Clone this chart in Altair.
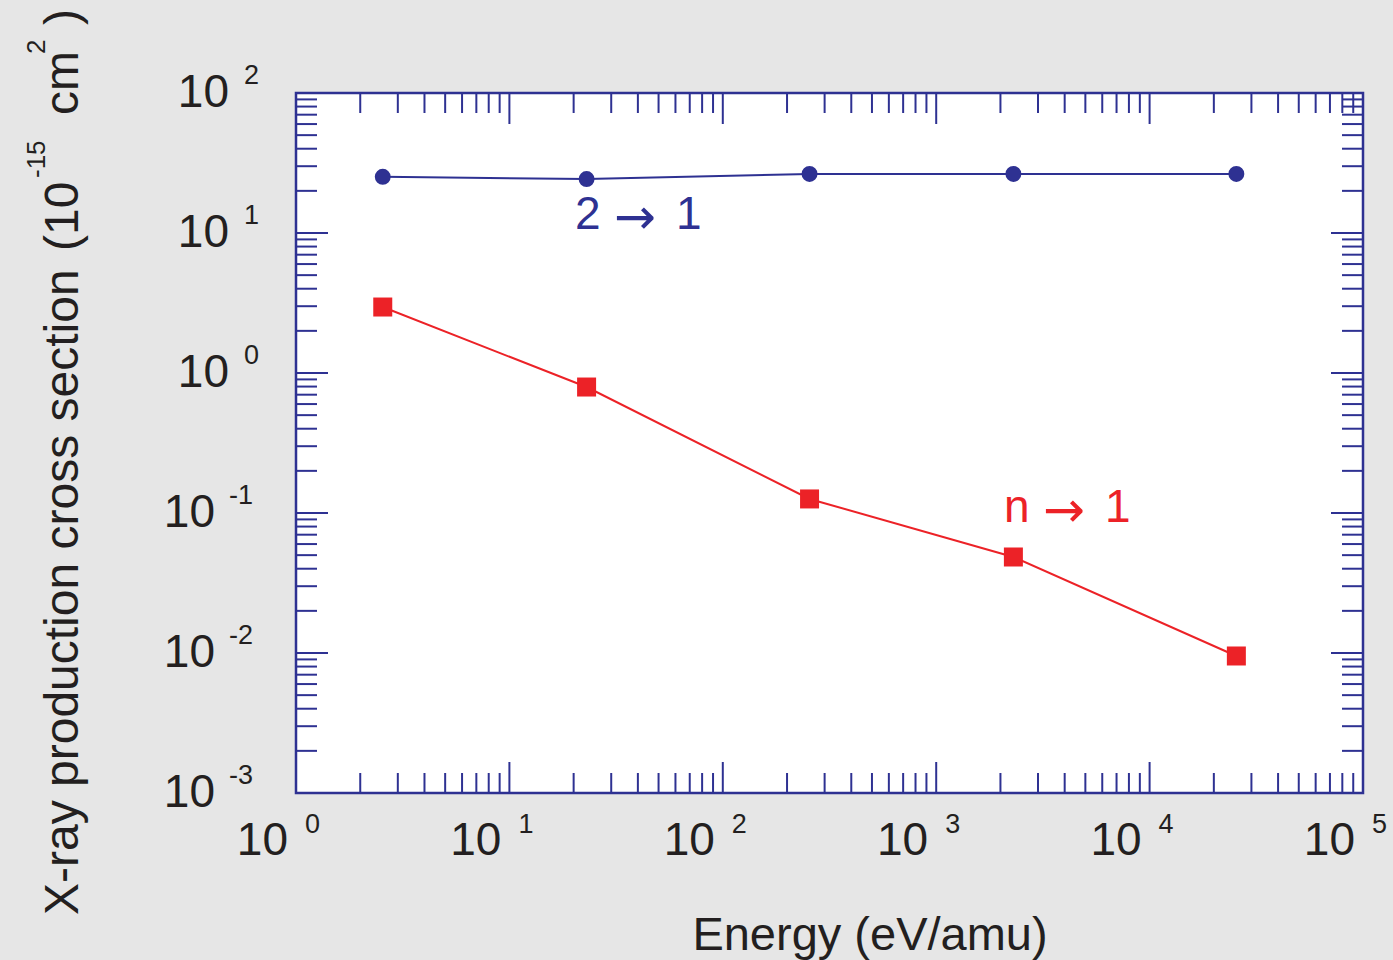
import altair as alt
import pandas as pd

# ---- data ----
energy = [2.55, 23, 255, 2300, 25500]           # eV/amu
sigma_21 = [25.2, 24.3, 26.4, 26.4, 26.4]        # 2 -> 1
sigma_n1 = [2.96, 0.794, 0.126, 0.0485, 0.00952] # n -> 1

x_decades = [0, 1, 2, 3, 4, 5]
y_decades = [-3, -2, -1, 0, 1, 2]
minor_mult = [2, 3, 4, 5, 6, 7, 8, 9]

ann_from = ["2", "n"]
ann_to = ["1", "1"]
ann_x = [20.3, 2080]
ann_y = [10.7, 0.0863]
ann_color = ["#2e3192", "#ec2227"]

x_title = "Energy (eV/amu)"
y_title_main = "X-ray production cross section"

# ---- styling ----
W, H = 1067, 700
BLUE = "#2e3192"
RED = "#ec2227"
INK = "#231f20"
FONT = "Liberation Sans"

xs = alt.Scale(type="log", domain=[1, 1e5], nice=False)
ys = alt.Scale(type="log", domain=[1e-3, 1e2], nice=False)

blue_df = pd.DataFrame({"E": energy, "s": sigma_21})
red_df = pd.DataFrame({"E": energy, "s": sigma_n1})

X = alt.X("E:Q", scale=xs, axis=None)
Y = alt.Y("s:Q", scale=ys, axis=None)

line_b = alt.Chart(blue_df).mark_line(color=BLUE, strokeWidth=2).encode(x=X, y=Y)
pts_b = alt.Chart(blue_df).mark_circle(color=BLUE, size=254, opacity=1).encode(x=X, y=Y)
line_r = alt.Chart(red_df).mark_line(color=RED, strokeWidth=2).encode(x=X, y=Y)
pts_r = alt.Chart(red_df).mark_square(color=RED, size=361, opacity=1).encode(x=X, y=Y)

# ---- ticks (inside, on all four sides) ----
xmaj = pd.DataFrame({"v": [10.0 ** d for d in x_decades]})
xmin = pd.DataFrame({"v": [m * 10.0 ** d for d in x_decades[:-1] for m in minor_mult]})
ymaj = pd.DataFrame({"v": [10.0 ** d for d in y_decades]})
ymin = pd.DataFrame({"v": [m * 10.0 ** d for d in y_decades[:-1] for m in minor_mult]})


def xticks(df, length):
    vx = alt.X("v:Q", scale=xs, axis=None)
    top = alt.Chart(df).mark_rule(color=BLUE, strokeWidth=2).encode(
        x=vx, y=alt.value(0), y2=alt.value(length))
    bot = alt.Chart(df).mark_rule(color=BLUE, strokeWidth=2).encode(
        x=vx, y=alt.value(H), y2=alt.value(H - length))
    return [top, bot]


def yticks(df, length):
    vy = alt.Y("v:Q", scale=ys, axis=None)
    left = alt.Chart(df).mark_rule(color=BLUE, strokeWidth=2).encode(
        y=vy, x=alt.value(0), x2=alt.value(length))
    right = alt.Chart(df).mark_rule(color=BLUE, strokeWidth=2).encode(
        y=vy, x=alt.value(W), x2=alt.value(W - length))
    return [left, right]


ticks = xticks(xmin, 20) + xticks(xmaj, 31) + yticks(ymin, 21) + yticks(ymaj, 32)

# ---- tick labels: 10 with superscript exponent ----
xlab = pd.DataFrame({"v": [10.0 ** e for e in x_decades], "t": [str(e) for e in x_decades]})
ylab_pos = pd.DataFrame({"v": [10.0 ** e for e in y_decades if e >= 0],
                         "t": [str(e) for e in y_decades if e >= 0]})
ylab_neg = pd.DataFrame({"v": [10.0 ** e for e in y_decades if e < 0],
                         "t": [str(e) for e in y_decades if e < 0]})

vx = alt.X("v:Q", scale=xs, axis=None)
vy = alt.Y("v:Q", scale=ys, axis=None)

x_ten = alt.Chart(xlab).mark_text(text="10", font=FONT, fontSize=46, color=INK,
                                  align="right", baseline="alphabetic", dx=-8).encode(
    x=vx, y=alt.value(H + 62))
x_exp = alt.Chart(xlab).mark_text(font=FONT, fontSize=27, color=INK,
                                  align="left", baseline="alphabetic", dx=9).encode(
    x=vx, y=alt.value(H + 40), text="t:N")

y_ten_p = alt.Chart(ylab_pos).mark_text(text="10", font=FONT, fontSize=46, color=INK,
                                        align="right", baseline="alphabetic", dy=14).encode(
    x=alt.value(-67), y=vy)
y_exp_p = alt.Chart(ylab_pos).mark_text(font=FONT, fontSize=27, color=INK,
                                        align="left", baseline="alphabetic", dy=-9).encode(
    x=alt.value(-52), y=vy, text="t:N")
y_ten_n = alt.Chart(ylab_neg).mark_text(text="10", font=FONT, fontSize=46, color=INK,
                                        align="right", baseline="alphabetic", dy=14).encode(
    x=alt.value(-81), y=vy)
y_exp_n = alt.Chart(ylab_neg).mark_text(font=FONT, fontSize=27, color=INK,
                                        align="left", baseline="alphabetic", dy=-9).encode(
    x=alt.value(-67), y=vy, text="t:N")

# ---- annotations: "2 -> 1" and "n -> 1" ----
ann_df = pd.DataFrame({"a": ann_from, "b": ann_to, "x": ann_x, "y": ann_y, "c": ann_color})
AX = alt.X("x:Q", scale=xs, axis=None)
AY = alt.Y("y:Q", scale=ys, axis=None)
AC = alt.Color("c:N", scale=None)
ann_a = alt.Chart(ann_df).mark_text(font=FONT, fontSize=46, align="left",
                                    baseline="alphabetic").encode(
    x=AX, y=AY, text="a:N", color=AC)
ann_arrow = alt.Chart(ann_df).mark_text(text="\u2192", font="DejaVu Sans", fontSize=50,
                                        align="center", baseline="alphabetic",
                                        dx=60, dy=5).encode(x=AX, y=AY, color=AC)
ann_b = alt.Chart(ann_df).mark_text(font=FONT, fontSize=46, align="left",
                                    baseline="alphabetic", dx=101).encode(
    x=AX, y=AY, text="b:N", color=AC)

# ---- axis titles ----
xt = alt.Chart(pd.DataFrame({"t": [x_title]})).mark_text(
    font=FONT, fontSize=47, color=INK, align="center", baseline="alphabetic").encode(
    x=alt.value(574), y=alt.value(H + 157), text="t:N")


def ypiece(txt, ypos, size, xpos):
    return alt.Chart(pd.DataFrame({"t": [txt]})).mark_text(
        font=FONT, fontSize=size, color=INK, align="left", baseline="alphabetic",
        angle=270).encode(x=alt.value(xpos), y=alt.value(ypos), text="t:N")


ytitle = [
    ypiece(y_title_main, 822, 48, -218),
    ypiece("(10", 158, 48, -218),
    ypiece("-15", 85, 26, -251),
    ypiece("cm", 22, 48, -218),
    ypiece("2", -39, 26, -251),
    ypiece(")", -68, 48, -218),
]

chart = alt.layer(
    *ticks, line_b, line_r, pts_b, pts_r,
    x_ten, x_exp, y_ten_p, y_exp_p, y_ten_n, y_exp_n,
    ann_a, ann_arrow, ann_b, xt, *ytitle,
).properties(
    width=W, height=H,
    autosize=alt.AutoSizeParams(type="none"),
    padding={"left": 296, "top": 93, "right": 30, "bottom": 167},
).configure(
    background="#e6e6e6",
).configure_view(
    fill="white", stroke=BLUE, strokeWidth=2.5,
)

chart.save("out.html", embed_options={"renderer": "svg", "actions": False})
